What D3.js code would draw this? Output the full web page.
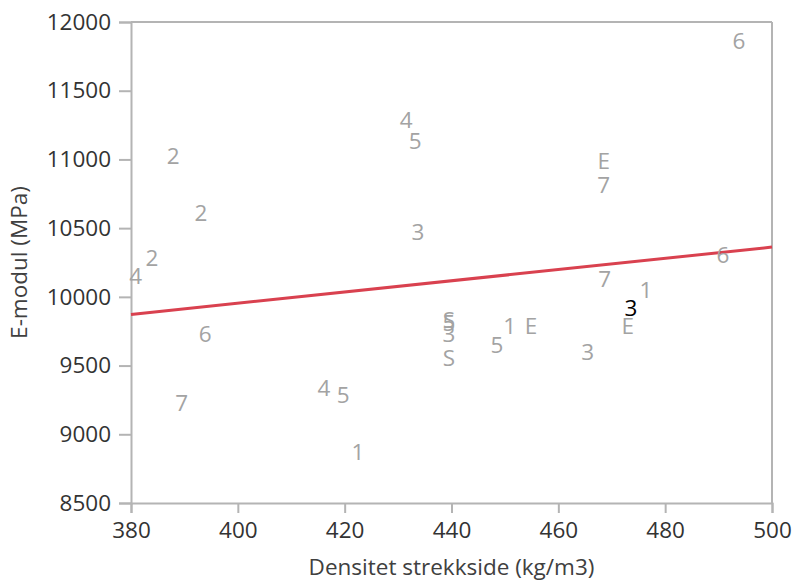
<!DOCTYPE html>
<html><head><meta charset="utf-8">
<script src="https://cdn.jsdelivr.net/npm/d3@7"></script>
<style>
html,body{margin:0;padding:0;background:#fff;}
svg{display:block;}
</style></head>
<body>
<svg id="chart" width="792" height="583"></svg>
<script>
const labels = ["6","4","5","2","E","7","2","3","2","6","4","7","1","3","E","S","5","3","1","E","5","S","3","6","7","4","5","1"];
const xValues = [493.8,431.5,433.2,387.9,468.5,468.5,393.1,433.7,383.9,490.8,380.9,468.7,476.4,473.6,473.0,439.5,439.5,439.5,450.9,454.9,448.5,439.5,465.5,393.9,389.5,416.1,419.7,422.5];
const yValues = [11862,11287,11141,11032,10989,10814,10617,10472,10290,10305,10152,10130,10057,9919,9795,9832,9812,9737,9795,9795,9650,9562,9599,9737,9228,9337,9293,8878];
const highlighted = [false,false,false,false,false,false,false,false,false,false,false,false,false,true,false,false,false,false,false,false,false,false,false,false,false,false,false,false];
const fitX = [380, 500];
const fitY = [9872, 10362];
const xTicks = [380,400,420,440,460,480,500];
const yTicks = [8500,9000,9500,10000,10500,11000,11500,12000];
const xTitle = "Densitet strekkside (kg/m3)";
const yTitle = "E-modul (MPa)";

const svg = d3.select("#chart");
const m = {left:131, right:20, top:22, bottom:80};
const W = 792, H = 583;
const x = d3.scaleLinear().domain([380,500]).range([m.left, W - m.right]);
const y = d3.scaleLinear().domain([8500,12000]).range([H - m.bottom, m.top]);
const font = "'Open Sans', sans-serif";
const axisColor = "#b4b4b4";
const fs = 22.5;

// frame top and right
svg.append("line").attr("x1", x(380)).attr("x2", x(500)).attr("y1", y(12000)).attr("y2", y(12000))
  .attr("stroke", axisColor).attr("stroke-width", 2);
svg.append("line").attr("x1", x(500)).attr("x2", x(500)).attr("y1", y(12000)).attr("y2", y(8500))
  .attr("stroke", axisColor).attr("stroke-width", 2);

const xa = svg.append("g").attr("transform", `translate(0,${y(8500)})`)
  .call(d3.axisBottom(x).tickValues(xTicks).tickSize(10).tickPadding(9).tickFormat(d3.format("d")));
const ya = svg.append("g").attr("transform", `translate(${x(380)},0)`)
  .call(d3.axisLeft(y).tickValues(yTicks).tickSize(12).tickPadding(8).tickFormat(d3.format("d")));
[xa, ya].forEach(g => {
  g.select(".domain").attr("stroke", axisColor).attr("stroke-width", 2);
  g.selectAll(".tick line").attr("stroke", axisColor).attr("stroke-width", 2);
  g.selectAll("text").attr("font-family", font).attr("font-size", fs).attr("fill", "#333");
});

// regression line
svg.append("line")
  .attr("x1", x(fitX[0])).attr("y1", y(fitY[0]))
  .attr("x2", x(fitX[1])).attr("y2", y(fitY[1]))
  .attr("stroke", "#d9414f").attr("stroke-width", 3);

// point labels
svg.append("g").selectAll("text").data(labels.map((l,i)=>({l, x:xValues[i], y:yValues[i], h:highlighted[i]})))
  .join("text")
  .attr("x", d => x(d.x)).attr("y", d => y(d.y))
  .attr("text-anchor", "middle").attr("dominant-baseline", "central")
  .attr("font-family", font).attr("font-size", fs)
  .attr("fill", d => d.h ? "#000" : "#a3a3a3")
  .text(d => d.l);

svg.append("text").attr("x", (x(380)+x(500))/2).attr("y", 566)
  .attr("text-anchor","middle").attr("dominant-baseline","central")
  .attr("font-family", font).attr("font-size", fs).attr("fill", "#404040").text(xTitle);
svg.append("text").attr("transform", `translate(18,${(y(8500)+y(12000))/2}) rotate(-90)`)
  .attr("text-anchor","middle").attr("dominant-baseline","central")
  .attr("font-family", font).attr("font-size", fs).attr("fill", "#404040").text(yTitle);
</script>
</body></html>
